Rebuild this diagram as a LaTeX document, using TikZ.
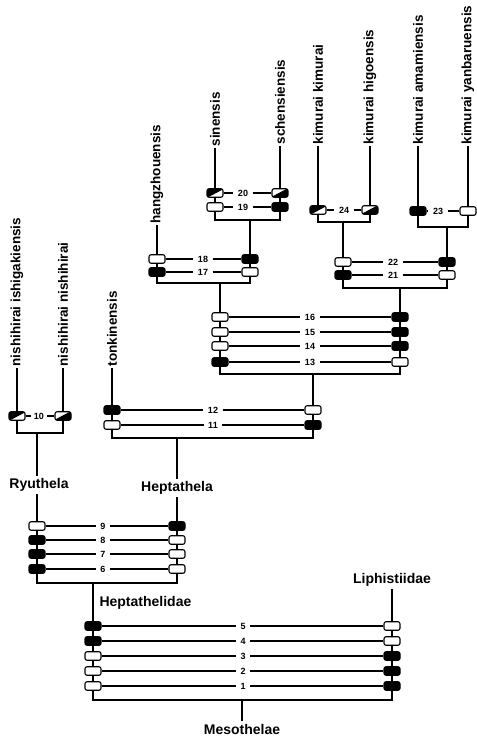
\documentclass[tikz,border=0pt]{standalone}
\usepackage{fontspec}
\setmainfont{Liberation Sans}
\usetikzlibrary{positioning}

\begin{document}
\begin{tikzpicture}[x=1pt,y=-1pt,line width=1.1pt,
  every node/.style={font=\bfseries},
  wbox/.style={draw,fill=white,rounded corners=2pt,minimum width=16pt,minimum height=8.5pt,inner sep=0pt},
  bbox/.style={wbox,fill=black},
  hlbox/.style={wbox,path picture={\fill[black] (path picture bounding box.south west)--(path picture bounding box.north west)--(path picture bounding box.north east)--cycle;
    \draw[black] (path picture bounding box.south west)--(path picture bounding box.north east);}},
  hrbox/.style={wbox,path picture={\fill[black] (path picture bounding box.south west)--(path picture bounding box.south east)--(path picture bounding box.north east)--cycle;
    \draw[black] (path picture bounding box.south west)--(path picture bounding box.north east);}},
  num/.style={font=\bfseries\fontsize{9}{10}\selectfont,inner sep=4pt},
  taxon/.style={font=\bfseries\fontsize{14}{16}\selectfont,inner sep=2pt},
  spec/.style={font=\bfseries\fontsize{13.5}{15}\selectfont,rotate=90,anchor=west,inner sep=1pt}]
\useasboundingbox (0,0) rectangle (476,738);
% leaves
\coordinate (ish) at (17,368);
\coordinate (nis) at (63,368);
\coordinate (ton) at (112,368);
\coordinate (han) at (157,225);
\coordinate (sin) at (215,148);
\coordinate (sch) at (280,146);
\coordinate (kk) at (318,146);
\coordinate (hig) at (370,146);
\coordinate (ama) at (418,146);
\coordinate (yan) at (468,146);
\node[spec] at (ish) {nishihirai ishigakiensis};
\node[spec] at (nis) {nishihirai nishihirai};
\node[spec] at (ton) {tonkinensis};
\node[spec] at (han) {hangzhouensis};
\node[spec] at (sin) {sinensis};
\node[spec] at (sch) {schensiensis};
\node[spec] at (kk) {kimurai kimurai};
\node[spec] at (hig) {kimurai higoensis};
\node[spec] at (ama) {kimurai amamiensis};
\node[spec] at (yan) {kimurai yanbaruensis};
% branching points
\coordinate (A) at (250,220);
\coordinate (B) at (220,283);
\coordinate (C) at (343,222);
\coordinate (D) at (447,227);
\coordinate (E) at (400,288);
\coordinate (F) at (313,374);
\coordinate (G) at (177,438);
\coordinate (H) at (37,433);
\coordinate (I) at (93,583);
\coordinate (J) at (242,700);
\node[taxon] (hept) at (177,488) {Heptathela};
\node[taxon] (ryu) at (39,485) {Ryuthela};
\node[taxon,anchor=west] (fam) at (97,603) {Heptathelidae};
\node[taxon] (liph) at (392,580) {Liphistiidae};
\node[taxon] (meso) at (242,729) {Mesothelae};
% tree
\draw (sin) |- (A) -| (sch);
\draw (han) |- (B) -| (A);
\draw (kk) |- (C) -| (hig);
\draw (ama) |- (D) -| (yan);
\draw (C) |- (E) -| (D);
\draw (B) |- (F) -| (E);
\draw (ton) |- (G) -| (F);
\draw (G) -- (G |- hept.north);
\draw (ish) |- (H) -| (nis);
\draw (H) -- (H |- ryu.north);
\draw (H |- ryu.south) |- (I) -| (G |- hept.south);
\draw (I) |- (J) -| (liph.south);
\draw (J) -- (meso);
% characters
\node[hlbox] (l20) at (215,193) {}; \node[num] (n20) at (243,193) {20}; \node[hrbox] (r20) at (280,193) {};
\node[wbox] (l19) at (215,207) {}; \node[num] (n19) at (243,207) {19}; \node[bbox] (r19) at (280,207) {};
\node[wbox] (l18) at (157,259) {}; \node[num] (n18) at (203,259) {18}; \node[bbox] (r18) at (250,259) {};
\node[bbox] (l17) at (157,272) {}; \node[num] (n17) at (203,272) {17}; \node[wbox] (r17) at (250,272) {};
\node[hlbox] (l24) at (318,210) {}; \node[num] (n24) at (344,210) {24}; \node[hrbox] (r24) at (370,210) {};
\node[bbox] (l23) at (418,211) {}; \node[num] (n23) at (438,211) {23}; \node[wbox] (r23) at (468,211) {};
\node[wbox] (l22) at (343,262) {}; \node[num] (n22) at (393,262) {22}; \node[bbox] (r22) at (447,262) {};
\node[bbox] (l21) at (343,275) {}; \node[num] (n21) at (393,275) {21}; \node[wbox] (r21) at (447,275) {};
\node[wbox] (l16) at (220,317) {}; \node[num] (n16) at (310,317) {16}; \node[bbox] (r16) at (400,317) {};
\node[wbox] (l15) at (220,332) {}; \node[num] (n15) at (310,332) {15}; \node[bbox] (r15) at (400,332) {};
\node[wbox] (l14) at (220,346) {}; \node[num] (n14) at (310,346) {14}; \node[bbox] (r14) at (400,346) {};
\node[bbox] (l13) at (220,362) {}; \node[num] (n13) at (310,362) {13}; \node[wbox] (r13) at (400,362) {};
\node[bbox] (l12) at (112,410) {}; \node[num] (n12) at (213,410) {12}; \node[wbox] (r12) at (313,410) {};
\node[wbox] (l11) at (112,425) {}; \node[num] (n11) at (213,425) {11}; \node[bbox] (r11) at (313,425) {};
\node[hlbox] (l10) at (17,416) {}; \node[num,inner sep=2pt] (n10) at (39,416) {10}; \node[hrbox] (r10) at (63,416) {};
\node[wbox] (l9) at (37,526) {}; \node[num] (n9) at (103,526) {9}; \node[bbox] (r9) at (177,526) {};
\node[bbox] (l8) at (37,540) {}; \node[num] (n8) at (103,540) {8}; \node[wbox] (r8) at (177,540) {};
\node[bbox] (l7) at (37,554) {}; \node[num] (n7) at (103,554) {7}; \node[wbox] (r7) at (177,554) {};
\node[bbox] (l6) at (37,569) {}; \node[num] (n6) at (103,569) {6}; \node[wbox] (r6) at (177,569) {};
\node[bbox] (l5) at (93,626) {}; \node[num] (n5) at (243,626) {5}; \node[wbox] (r5) at (392,626) {};
\node[bbox] (l4) at (93,641) {}; \node[num] (n4) at (243,641) {4}; \node[wbox] (r4) at (392,641) {};
\node[wbox] (l3) at (93,656) {}; \node[num] (n3) at (243,656) {3}; \node[bbox] (r3) at (392,656) {};
\node[wbox] (l2) at (93,671) {}; \node[num] (n2) at (243,671) {2}; \node[bbox] (r2) at (392,671) {};
\node[wbox] (l1) at (93,686) {}; \node[num] (n1) at (243,686) {1}; \node[bbox] (r1) at (392,686) {};
\draw (l20)--(n20)--(r20); \draw (l19)--(n19)--(r19);
\draw (l18)--(n18)--(r18); \draw (l17)--(n17)--(r17);
\draw (l24)--(n24)--(r24); \draw (l23)--(n23)--(r23);
\draw (l22)--(n22)--(r22); \draw (l21)--(n21)--(r21);
\draw (l16)--(n16)--(r16); \draw (l15)--(n15)--(r15);
\draw (l14)--(n14)--(r14); \draw (l13)--(n13)--(r13);
\draw (l12)--(n12)--(r12); \draw (l11)--(n11)--(r11);
\draw (l10)--(n10)--(r10);
\draw (l9)--(n9)--(r9); \draw (l8)--(n8)--(r8);
\draw (l7)--(n7)--(r7); \draw (l6)--(n6)--(r6);
\draw (l5)--(n5)--(r5); \draw (l4)--(n4)--(r4);
\draw (l3)--(n3)--(r3); \draw (l2)--(n2)--(r2);
\draw (l1)--(n1)--(r1);
\end{tikzpicture}
\end{document}
